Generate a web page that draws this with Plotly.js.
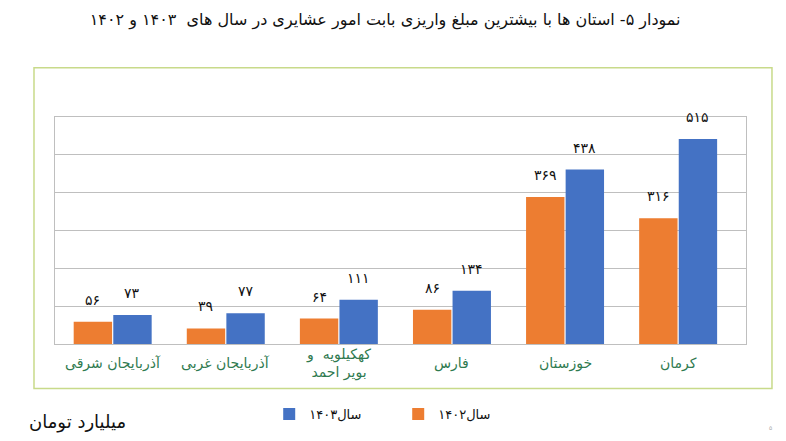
<!DOCTYPE html>
<html>
<head>
<meta charset="utf-8">
<script src="https://cdn.plot.ly/plotly-3.0.1.min.js"></script>
<style>
  html, body { margin: 0; padding: 0; background: #fff; }
  #chart { width: 786px; height: 441px; }
</style>
</head>
<body>
<div id="chart"></div>
<script>
(() => {
    const provinces = ["آذربایجان شرقی", "آذربایجان غربی", "کهکیلویه  و<br>بویر احمد", "فارس", "خوزستان", "کرمان"];
    const values1402 = [56, 39, 64, 86, 369, 316];
    const values1403 = [73, 77, 111, 134, 438, 515];
    const seriesNames = ["سال۱۴۰۲", "سال۱۴۰۳"];

    const COLORS = { y1402: "#ed7d31", y1403: "#4472c4", grid: "#bfbfbf", cat: "#2f7a50", frame: "#c8da8a" };
    const FONT = "DejaVu Sans, sans-serif";

    // western digits -> persian digits
    const toFa = (n) => String(n).replace(/\d/g, (d) => "۰۱۲۳۴۵۶۷۸۹"[d]);

    const idx = provinces.map((_, i) => i);

    const traces = [
        {
            x: idx, y: values1402, type: "bar", name: seriesNames[0],
            marker: { color: COLORS.y1402 }, hoverinfo: "skip",
        },
        {
            x: idx, y: values1403, type: "bar", name: seriesNames[1],
            marker: { color: COLORS.y1403 }, hoverinfo: "skip",
        },
    ];

    // value labels sit a bit above each bar (slot centre = i -/+ quarter of the group width)
    const bargap = 0.3;
    const half = (1 - bargap) / 4;
    const valueLabel = (v, i, dx) => ({
        x: i + dx, y: v, xref: "x", yref: "y", text: toFa(v), showarrow: false,
        yanchor: "bottom", yshift: 12, font: { family: FONT, size: 14, color: "#111" },
    });
    const annotations = [
        ...values1402.map((v, i) => valueLabel(v, i, -half)),
        ...values1403.map((v, i) => valueLabel(v, i, half)),
        // category names, centred under each group
        ...provinces.map((p, i) => ({
            x: i, y: 0, xref: "x", yref: "paper", text: p, showarrow: false,
            yanchor: "middle", yshift: -19, font: { family: FONT, size: 14, color: COLORS.cat },
        })),
        {
            x: -0.04, y: -0.345, xref: "paper", yref: "paper", text: "میلیارد تومان",
            xanchor: "left", yanchor: "middle", showarrow: false,
            font: { family: FONT, size: 18, color: "#111" },
        },
        {
            x: 1.04, y: -0.39, xref: "paper", yref: "paper", text: "۵",
            showarrow: false, font: { family: FONT, size: 6, color: "#aaa" },
        },
    ];

    const layout = {
        width: 786, height: 441,
        margin: { t: 117, r: 40, b: 94, l: 55 },
        paper_bgcolor: "#fff", plot_bgcolor: "#fff",
        font: { family: FONT, color: "#111" },
        title: {
            text: "نمودار ۵- استان ها با بیشترین مبلغ واریزی بابت امور عشایری در سال های  ۱۴۰۳ و ۱۴۰۲",
            x: 0.49, xanchor: "center", y: 0.955, yanchor: "middle", yref: "container",
            font: { family: FONT, size: 16, color: "#111" },
        },
        barmode: "group", bargap: bargap, bargroupgap: 0.03,
        xaxis: {
            type: "linear", range: [-0.51, 5.6], showticklabels: false, ticks: "",
            showgrid: false, zeroline: false,
            showline: true, mirror: true, linecolor: COLORS.grid, linewidth: 1,
        },
        yaxis: {
            range: [0, 570], dtick: 570 / 6, showticklabels: false, ticks: "",
            showgrid: true, gridcolor: COLORS.grid, gridwidth: 1, zeroline: false,
            showline: true, mirror: true, linecolor: COLORS.grid, linewidth: 1,
        },
        showlegend: true,
        legend: {
            orientation: "h", traceorder: "reversed",
            x: 0.31, xanchor: "left", y: -0.309, yanchor: "middle",
            font: { family: FONT, size: 13, color: "#111" },
            itemwidth: 30, entrywidth: 84,
        },
        shapes: [{
            type: "rect", xref: "paper", yref: "paper",
            x0: -0.0304, x1: 1.0376, y0: -0.1957, y1: 1.217,
            line: { color: COLORS.frame, width: 1.5 }, fillcolor: "rgba(0,0,0,0)",
        }],
        annotations,
    };

    Plotly.newPlot("chart", traces, layout, { displayModeBar: false, staticPlot: true });
})();
</script>
</body>
</html>
